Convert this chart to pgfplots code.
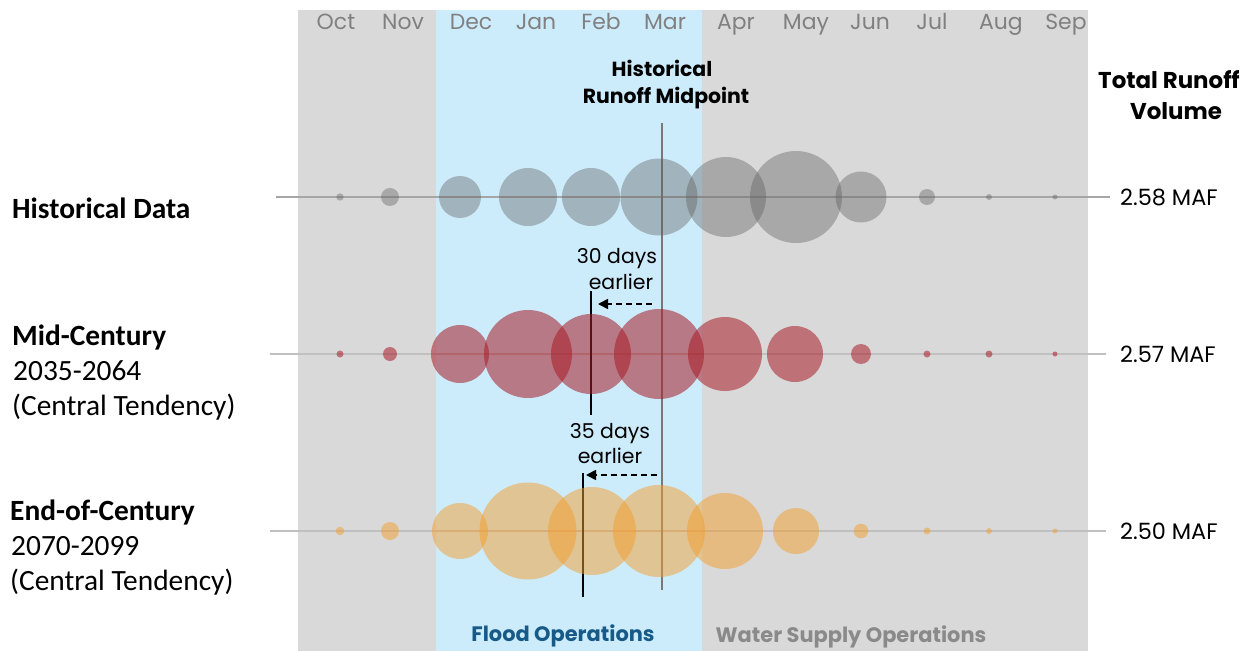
\documentclass[border=0pt]{standalone}
\usepackage{pgfplots}
\usepackage{pgfplotstable}
\pgfplotsset{compat=1.18}
\usepackage{fontspec}
\usetikzlibrary{arrows.meta}
\setmainfont{Carlito}
\newfontfamily\gothic{Poppins}

\definecolor{bggray}{RGB}{217,217,217}
\definecolor{bgblue}{RGB}{205,236,251}
\definecolor{histc}{RGB}{95,95,95}
\definecolor{midc}{RGB}{168,28,38}
\definecolor{endc}{RGB}{243,158,45}
\definecolor{monthc}{RGB}{128,128,128}
\definecolor{floodc}{RGB}{24,90,135}
\definecolor{supplyc}{RGB}{138,138,138}

% bubble rows: x = centre (px), r = radius (px)
\pgfplotstableread{
x r
340 3.7
390 9
460 21
528 29
591 29
659 38.5
726 40
796 46
861 25.5
927 8
989 3
1055 2.5
}\histtab
\pgfplotstableread{
x r
340 3.5
390 7
460 29
528 44
591 40
659 45
725 37
795 28
861 10
927 3.5
989 3.5
1055 2.5
}\midtab
\pgfplotstableread{
x r
340 4.3
390 9
460 28
528 48.5
592 44
659 46
725 38
796 23
861 7.3
927 3.5
989 3
1055 2.5
}\endtab

\pgfplotsset{bubbles/.style={
    only marks, mark=*, scatter,
    mark options={draw opacity=0},
    scatter/use mapped color={draw opacity=0, fill=#1},
    visualization depends on={\thisrow{r} \as \rad},
    scatter/@pre marker code/.append style={/tikz/mark size=\rad bp},
}}

\begin{document}
\begin{tikzpicture}
\begin{axis}[
    width=1243bp, height=651bp, scale only axis,
    xmin=0, xmax=1243, ymin=0, ymax=651, y dir=reverse,
    hide axis, clip=false,
  ]
  % operation bands
  \addplot[fill=bggray, draw=none] coordinates {(298,10)(1088,10)(1088,651)(298,651)} -- cycle;
  \addplot[fill=bgblue, draw=none] coordinates {(436,10)(702,10)(702,651)(436,651)} -- cycle;

  % row baselines
  \addplot[color={rgb,255:red,166;green,166;blue,166}, line width=1.6bp] coordinates {(276,197)(1110,197)};
  \addplot[color={rgb,255:red,192;green,192;blue,192}, line width=1.6bp] coordinates {(270,354)(1106,354)};
  \addplot[color={rgb,255:red,192;green,192;blue,192}, line width=1.6bp] coordinates {(270,531)(1106,531)};

  % bubbles
  \addplot[bubbles={histc, fill opacity=0.4}] table[x=x, y expr=197] {\histtab};
  \addplot[bubbles={midc, fill opacity=0.55}] table[x=x, y expr=354] {\midtab};
  \addplot[bubbles={endc, fill opacity=0.5}] table[x=x, y expr=531] {\endtab};

  % midpoint lines
  \addplot[color={rgb,255:red,120;green,120;blue,120}, line width=1.6bp] coordinates {(662,123)(662,590)};
  \addplot[black, line width=1.6bp] coordinates {(591,291)(591,415)};
  \addplot[black, line width=1.6bp] coordinates {(583,473)(583,597)};

  % shift arrows
  \addplot[black, line width=1.7bp, dash pattern=on 6bp off 4bp, -{Triangle[length=10bp,width=10bp]}] coordinates {(652,304)(598,304)};
  \addplot[black, line width=1.7bp, dash pattern=on 6bp off 4bp, -{Triangle[length=10bp,width=10bp]}] coordinates {(657,475)(586,475)};

  % month labels
  \foreach \m/\xx in {Oct/336,Nov/403,Dec/471,Jan/536,Feb/601,Mar/665,Apr/736,May/806,Jun/870,Jul/932,Aug/1001,Sep/1066}{
    \edef\tmp{\noexpand\node[text=monthc, anchor=base, font=\noexpand\gothic\noexpand\fontsize{22}{24}\noexpand\selectfont] at (axis cs:\xx,30) {\m};}
    \tmp
  }

  \begin{scope}[every node/.style={anchor=base, font=\gothic\bfseries\fontsize{20.5}{24}\selectfont}]
    \node at (axis cs:662,77) {Historical};
    \node at (axis cs:666,103) {Runoff Midpoint};
  \end{scope}
  \begin{scope}[every node/.style={anchor=base, font=\gothic\bfseries\fontsize{23}{26}\selectfont}]
    \node at (axis cs:1169,89) {Total Runoff};
    \node at (axis cs:1176,119) {Volume};
  \end{scope}

  \begin{scope}[every node/.style={anchor=base, font=\gothic\fontsize{20.5}{24}\selectfont}]
    \node at (axis cs:617,263) {30 days};
    \node at (axis cs:621,289) {earlier};
    \node at (axis cs:610,438) {35 days};
    \node at (axis cs:610,463) {earlier};
  \end{scope}

  \begin{scope}[every node/.style={anchor=base west, inner sep=0pt, font=\gothic\fontsize{22.5}{24}\selectfont}]
    \node at (axis cs:1120,205) {2.58 MAF};
    \node at (axis cs:1120,362) {2.57 MAF};
    \node at (axis cs:1120,539) {2.50 MAF};
  \end{scope}

  \node[anchor=base, font=\gothic\bfseries\fontsize{21}{24}\selectfont, text=floodc] at (axis cs:563,641) {Flood Operations};
  \node[anchor=base, font=\gothic\bfseries\fontsize{21}{24}\selectfont, text=supplyc] at (axis cs:851,642) {Water Supply Operations};

  \begin{scope}[every node/.style={anchor=base west, inner sep=0pt, font=\fontsize{29.5}{32}\selectfont}]
    \node[font=\bfseries\fontsize{29.5}{32}\selectfont] at (axis cs:12,218) {Historical Data};
    \node[font=\bfseries\fontsize{29.5}{32}\selectfont] at (axis cs:12,345) {Mid-Century};
    \node at (axis cs:13,380) {2035-2064};
    \node at (axis cs:12,415) {(Central Tendency)};
    \node[font=\bfseries\fontsize{29.5}{32}\selectfont] at (axis cs:10,520) {End-of-Century};
    \node at (axis cs:11,555) {2070-2099};
    \node at (axis cs:10,590) {(Central Tendency)};
  \end{scope}
\end{axis}
\pgfresetboundingbox
\path[use as bounding box] (0,0) rectangle (1243bp,651bp);
\end{tikzpicture}
\end{document}
